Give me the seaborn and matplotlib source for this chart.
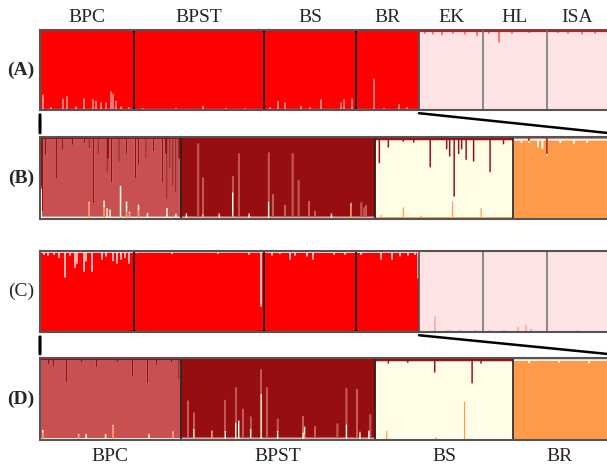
import numpy as np
import pandas as pd
import matplotlib
matplotlib.use('Agg')
import matplotlib.pyplot as plt
import seaborn as sns
from matplotlib.patches import ConnectionPatch

sns.set_style('white')
plt.rcParams['font.family'] = ['Liberation Serif', 'DejaVu Serif']

# ==========================================
# populations
# ==========================================
pops_k2 = ['BPC', 'BPST', 'BS', 'BR', 'EK', 'HL', 'ISA']
sizes_k2 = [94, 130, 92, 63, 64, 64, 60]
main_k2 = ['red', 'red', 'red', 'red', 'pink', 'pink', 'pink']

pops_k4 = ['BPC', 'BPST', 'BS', 'BR']
sizes_k4 = [94, 130, 92, 63]
main_k4 = ['pink', 'dark', 'cream', 'orange']

k2_colors = {'red': '#ff0000', 'pink': '#fde3e3'}
k4_colors = {'dark': '#960e10', 'pink': '#c85050', 'cream': '#fffde6', 'orange': '#ff9a4a'}

# ==========================================
# (A) K=2 membership: baseline + visible spikes (pop, index, cluster, q)
# ==========================================
A_base = [{'pink': .02}, {'pink': .02}, {'pink': .02}, {'pink': .02},
          {'red': .02}, {'red': .02}, {'red': .02}]
A_spikes = [
    ('BPC', 2, 'pink', .20), ('BPC', 10, 'pink', .04), ('BPC', 22, 'pink', .15), ('BPC', 26, 'pink', .18),
    ('BPC', 35, 'pink', .05), ('BPC', 43, 'pink', .15), ('BPC', 52, 'pink', .14), ('BPC', 55, 'pink', .12),
    ('BPC', 60, 'pink', .10), ('BPC', 65, 'pink', .10), ('BPC', 70, 'pink', .24), ('BPC', 72, 'pink', .21),
    ('BPC', 75, 'pink', .12), ('BPC', 80, 'pink', .05), ('BPC', 88, 'pink', .04),
    ('BPST', 8, 'pink', .03), ('BPST', 41, 'pink', .03), ('BPST', 68, 'pink', .06),
    ('BPST', 91, 'pink', .03), ('BPST', 110, 'pink', .03),
    ('BS', 5, 'pink', .04), ('BS', 13, 'pink', .12), ('BS', 20, 'pink', .10), ('BS', 36, 'pink', .06),
    ('BS', 45, 'pink', .04), ('BS', 56, 'pink', .14), ('BS', 76, 'pink', .10), ('BS', 79, 'pink', .14),
    ('BS', 87, 'pink', .15),
    ('BR', 17, 'pink', .40), ('BR', 27, 'pink', .03), ('BR', 42, 'pink', .08), ('BR', 50, 'pink', .04),
    ('EK', 5, 'red', .04), ('EK', 13, 'red', .05), ('EK', 22, 'red', .06), ('EK', 33, 'red', .04),
    ('EK', 45, 'red', .05), ('EK', 57, 'red', .07),
    ('HL', 5, 'red', .04), ('HL', 15, 'red', .15), ('HL', 28, 'red', .04), ('HL', 45, 'red', .03),
    ('ISA', 10, 'red', .03), ('ISA', 20, 'red', .04), ('ISA', 34, 'red', .05), ('ISA', 47, 'red', .04),
]

# ==========================================
# (C) K=2 membership
# ==========================================
C_base = [{'pink': .015}, {'pink': .012}, {'pink': .015}, {'pink': .015},
          {'red': .02}, {'red': .02}, {'red': .015}]
C_spikes = [
    ('BPC', 3, 'pink', .04), ('BPC', 7, 'pink', .05), ('BPC', 13, 'pink', .04), ('BPC', 18, 'pink', .08),
    ('BPC', 24, 'pink', .32), ('BPC', 29, 'pink', .05), ('BPC', 34, 'pink', .20), ('BPC', 36, 'pink', .15),
    ('BPC', 43, 'pink', .25), ('BPC', 45, 'pink', .12), ('BPC', 51, 'pink', .25), ('BPC', 61, 'pink', .10),
    ('BPC', 65, 'pink', .06), ('BPC', 72, 'pink', .12), ('BPC', 76, 'pink', .15), ('BPC', 80, 'pink', .10),
    ('BPC', 84, 'pink', .08), ('BPC', 88, 'pink', .15),
    ('BPST', 2, 'pink', .02), ('BPST', 37, 'pink', .03), ('BPST', 83, 'pink', .03),
    ('BPST', 114, 'pink', .04), ('BPST', 126, 'pink', .68),
    ('BS', 7, 'pink', .05), ('BS', 15, 'pink', .03), ('BS', 25, 'pink', .10), ('BS', 30, 'pink', .05),
    ('BS', 42, 'pink', .06), ('BS', 48, 'pink', .10), ('BS', 69, 'pink', .04), ('BS', 80, 'pink', .04),
    ('BR', 4, 'pink', .04), ('BR', 24, 'pink', .10), ('BR', 35, 'pink', .10), ('BR', 43, 'pink', .06),
    ('BR', 51, 'pink', .05), ('BR', 58, 'pink', .04), ('BR', 61, 'pink', .33),
    ('EK', 5, 'red', .02), ('EK', 15, 'red', .20), ('EK', 28, 'red', .03), ('EK', 31, 'red', .03),
    ('EK', 40, 'red', .03), ('EK', 55, 'red', .03),
    ('HL', 6, 'red', .03), ('HL', 20, 'red', .03), ('HL', 34, 'red', .07), ('HL', 42, 'red', .10),
    ('HL', 47, 'red', .05),
    ('ISA', 10, 'red', .02), ('ISA', 30, 'red', .03), ('ISA', 50, 'red', .02),
]

# ==========================================
# (B) K=4 membership of the red group
# ==========================================
B_base = [{'orange': .02, 'cream': .015, 'dark': .02},
          {'orange': .015, 'cream': .01, 'pink': .015},
          {'orange': .03, 'pink': .005, 'dark': .03},
          {'cream': .02, 'dark': .01, 'pink': .005}]
B_spikes = [
    ('BPC', 0, 'dark', .60), ('BPC', 0, 'cream', .35), ('BPC', 1, 'dark', .90), ('BPC', 3, 'dark', .21),
    ('BPC', 10, 'dark', .50), ('BPC', 14, 'dark', .15), ('BPC', 21, 'dark', .09), ('BPC', 29, 'dark', .07),
    ('BPC', 32, 'dark', .13), ('BPC', 35, 'dark', .80), ('BPC', 38, 'dark', .20), ('BPC', 44, 'dark', .42),
    ('BPC', 45, 'dark', .26), ('BPC', 47, 'dark', .55), ('BPC', 52, 'dark', .30), ('BPC', 57, 'dark', .20),
    ('BPC', 63, 'dark', .50), ('BPC', 65, 'dark', .34), ('BPC', 70, 'dark', .26), ('BPC', 75, 'dark', .17),
    ('BPC', 81, 'dark', .55), ('BPC', 83, 'dark', .20), ('BPC', 84, 'dark', .75), ('BPC', 86, 'dark', .38),
    ('BPC', 88, 'dark', .59), ('BPC', 90, 'dark', .67), ('BPC', 92, 'dark', .26), ('BPC', 93, 'dark', .85),
    ('BPC', 32, 'orange', .20), ('BPC', 42, 'orange', .15), ('BPC', 53, 'orange', .03),
    ('BPC', 57, 'orange', .10), ('BPC', 59, 'orange', .08), ('BPC', 65, 'orange', .12),
    ('BPC', 42, 'cream', .08), ('BPC', 44, 'cream', .12), ('BPC', 46, 'cream', .10), ('BPC', 53, 'cream', .38),
    ('BPC', 57, 'cream', .12), ('BPC', 65, 'cream', .06), ('BPC', 71, 'cream', .06), ('BPC', 84, 'cream', .12),
    ('BPC', 90, 'cream', .05),
    ('BPST', 11, 'pink', .90), ('BPST', 14, 'pink', .45), ('BPST', 34, 'pink', .20), ('BPST', 38, 'pink', .78),
    ('BPST', 58, 'pink', .60), ('BPST', 61, 'pink', .28), ('BPST', 69, 'pink', .15), ('BPST', 74, 'pink', .78),
    ('BPST', 78, 'pink', .45), ('BPST', 85, 'pink', .20), ('BPST', 89, 'pink', .08), ('BPST', 120, 'pink', .18),
    ('BPST', 122, 'pink', .12), ('BPST', 123, 'pink', .15),
    ('BPST', 3, 'cream', .05), ('BPST', 25, 'cream', .05), ('BPST', 34, 'cream', .28),
    ('BPST', 45, 'cream', .05), ('BPST', 58, 'cream', .20), ('BPST', 100, 'cream', .05),
    ('BPST', 14, 'orange', .05), ('BPST', 34, 'orange', .05), ('BPST', 113, 'orange', .18),
    ('BS', 2, 'dark', .31), ('BS', 8, 'dark', .12), ('BS', 18, 'dark', .05), ('BS', 25, 'dark', .06),
    ('BS', 36, 'dark', .36), ('BS', 47, 'dark', .14), ('BS', 49, 'dark', .23), ('BS', 52, 'dark', .72),
    ('BS', 55, 'dark', .20), ('BS', 57, 'dark', .14), ('BS', 60, 'dark', .27), ('BS', 65, 'dark', .29),
    ('BS', 76, 'dark', .42), ('BS', 85, 'dark', .08),
    ('BS', 3, 'orange', .06), ('BS', 18, 'orange', .15), ('BS', 30, 'orange', .05),
    ('BS', 51, 'orange', .22), ('BS', 70, 'orange', .14),
    ('BR', 5, 'cream', .05), ('BR', 16, 'cream', .10), ('BR', 19, 'cream', .12), ('BR', 31, 'cream', .05),
    ('BR', 40, 'cream', .06), ('BR', 49, 'cream', .05),
    ('BR', 10, 'dark', .04), ('BR', 22, 'dark', .20),
]

# ==========================================
# (D) K=4 membership of the red group
# ==========================================
D_base = [{'orange': .02, 'cream': .01, 'dark': .025},
          {'orange': .015, 'cream': .01, 'pink': .012},
          {'orange': .02, 'dark': .03, 'pink': .005},
          {'cream': .02, 'dark': .008}]
D_spikes = [
    ('BPC', 5, 'dark', .07), ('BPC', 8, 'dark', .10), ('BPC', 17, 'dark', .29), ('BPC', 27, 'dark', .05),
    ('BPC', 37, 'dark', .11), ('BPC', 51, 'dark', .05), ('BPC', 61, 'dark', .22), ('BPC', 71, 'dark', .30),
    ('BPC', 77, 'dark', .08), ('BPC', 87, 'dark', .05), ('BPC', 92, 'dark', .25),
    ('BPC', 1, 'orange', .10), ('BPC', 25, 'orange', .07), ('BPC', 48, 'orange', .18), ('BPC', 88, 'orange', .10),
    ('BPC', 1, 'cream', .03), ('BPC', 30, 'cream', .06), ('BPC', 43, 'cream', .06), ('BPC', 72, 'cream', .06),
    ('BPST', 4, 'pink', .46), ('BPST', 8, 'pink', .20), ('BPST', 29, 'pink', .38), ('BPST', 36, 'pink', .43),
    ('BPST', 41, 'pink', .36), ('BPST', 46, 'pink', .15), ('BPST', 53, 'pink', .30), ('BPST', 57, 'pink', .62),
    ('BPST', 64, 'pink', .15), ('BPST', 81, 'pink', .20), ('BPST', 89, 'pink', .15), ('BPST', 104, 'pink', .18),
    ('BPST', 110, 'pink', .44), ('BPST', 117, 'pink', .60), ('BPST', 126, 'pink', .29),
    ('BPST', 8, 'cream', .10), ('BPST', 29, 'cream', .10), ('BPST', 36, 'cream', .20), ('BPST', 38, 'cream', .22),
    ('BPST', 46, 'cream', .10), ('BPST', 53, 'cream', .55), ('BPST', 64, 'cream', .10), ('BPST', 81, 'cream', .08),
    ('BPST', 82, 'cream', .08), ('BPST', 110, 'cream', .18), ('BPST', 119, 'cream', .08), ('BPST', 125, 'cream', .10),
    ('BPST', 8, 'orange', .04), ('BPST', 20, 'orange', .10), ('BPST', 46, 'orange', .04), ('BPST', 82, 'orange', .08),
    ('BS', 8, 'dark', .06), ('BS', 21, 'dark', .05), ('BS', 39, 'dark', .17), ('BS', 64, 'dark', .30),
    ('BS', 70, 'dark', .06),
    ('BS', 7, 'orange', .12), ('BS', 40, 'orange', .04), ('BS', 59, 'orange', .47),
    ('BR', 10, 'cream', .05), ('BR', 30, 'cream', .04), ('BR', 50, 'cream', .05),
]


def make_q(pops, sizes, main, base, spikes, clusters):
    lookup = {(p, i, c): v for p, i, c, v in spikes}
    rows = []
    start = 0
    for p, n, m, b in zip(pops, sizes, main, base):
        for i in range(n):
            fr = {c: lookup.get((p, i, c), b.get(c, 0.0)) for c in clusters if c != m}
            tot = sum(fr.values())
            if tot > 1:
                fr = {c: v / tot for c, v in fr.items()}
                tot = 1.0
            fr[m] = 1.0 - tot
            for c in clusters:
                rows.append({'ind': start + i, 'cluster': c, 'q': fr[c]})
        start += n
    return pd.DataFrame(rows)


def draw_panel(ax, df, order, palette, sizes, sep_colors):
    # first level of hue_order ends up on top of the stack
    sns.histplot(data=df, x='ind', weights='q', hue='cluster', hue_order=order,
                 palette=palette, multiple='stack', discrete=True, element='step',
                 alpha=1, linewidth=0, legend=False, ax=ax)
    n_total = sum(sizes)
    ax.set_xlim(-0.5, n_total - 0.5)
    ax.set_ylim(0, 1)
    ax.set_xticks([])
    ax.set_yticks([])
    ax.set_xlabel('')
    ax.set_ylabel('')
    for b, col in zip(np.cumsum(sizes)[:-1], sep_colors):
        ax.axvline(b - 0.5, color=col, lw=1.2)
    for side in ['top', 'bottom', 'left']:
        ax.spines[side].set_color('#555555')
        ax.spines[side].set_linewidth(1.5)
    ax.spines['right'].set_visible(False)


def pop_centers(sizes):
    edges = np.concatenate([[0], np.cumsum(sizes)])
    return (edges[:-1] + edges[1:]) / 2 - 0.5


fig = plt.figure(figsize=(6.07, 4.71), dpi=100)
W, H = 607, 471
axA = fig.add_axes([40 / W, 1 - 110 / H, 567 / W, 80 / H])
axB = fig.add_axes([40 / W, 1 - 219 / H, 567 / W, 82 / H])
axC = fig.add_axes([40 / W, 1 - 332 / H, 567 / W, 81 / H])
axD = fig.add_axes([40 / W, 1 - 440 / H, 567 / W, 82 / H])

sep_k2 = ['black', 'black', 'black', '#555555', '#777777', '#777777']
sep_k4 = ['#222222', '#222222', '#222222']

dfA = make_q(pops_k2, sizes_k2, main_k2, A_base, A_spikes, ['red', 'pink'])
dfC = make_q(pops_k2, sizes_k2, main_k2, C_base, C_spikes, ['red', 'pink'])
dfB = make_q(pops_k4, sizes_k4, main_k4, B_base, B_spikes, ['dark', 'pink', 'cream', 'orange'])
dfD = make_q(pops_k4, sizes_k4, main_k4, D_base, D_spikes, ['dark', 'pink', 'cream', 'orange'])

draw_panel(axA, dfA, ['red', 'pink'], k2_colors, sizes_k2, sep_k2)
draw_panel(axC, dfC, ['pink', 'red'], k2_colors, sizes_k2, sep_k2)
draw_panel(axB, dfB, ['dark', 'pink', 'cream', 'orange'], k4_colors, sizes_k4, sep_k4)
draw_panel(axD, dfD, ['dark', 'pink', 'cream', 'orange'], k4_colors, sizes_k4, sep_k4)

# population labels
for x, p in zip(pop_centers(sizes_k2), pops_k2):
    axA.text(x, 1.16, p, transform=axA.get_xaxis_transform(), ha='center', va='center', fontsize=14)
for x, p in zip(pop_centers(sizes_k4), pops_k4):
    axD.text(x, -0.2, p, transform=axD.get_xaxis_transform(), ha='center', va='center', fontsize=14)

# panel letters
for ax, lab, wt in [(axA, '(A)', 'bold'), (axB, '(B)', 'bold'), (axC, '(C)', 'normal'), (axD, '(D)', 'bold')]:
    ax.text(-0.034, 0.5, lab, transform=ax.transAxes, ha='center', va='center', fontsize=14, fontweight=wt)

# zoom lines: red group of the K=2 run expanded below
n_red = sum(sizes_k4)
for top, bot in [(axA, axB), (axC, axD)]:
    fig.add_artist(ConnectionPatch(xyA=(-0.5, -0.06), coordsA=top.transData,
                                   xyB=(-0.5, 1.05), coordsB=bot.transData,
                                   color='black', lw=2.2))
    fig.add_artist(ConnectionPatch(xyA=(n_red - 0.5, -0.04), coordsA=top.transData,
                                   xyB=(n_red - 0.5, 1.05), coordsB=bot.transData,
                                   color='black', lw=1.8))

fig.savefig('out.png', dpi=100)
